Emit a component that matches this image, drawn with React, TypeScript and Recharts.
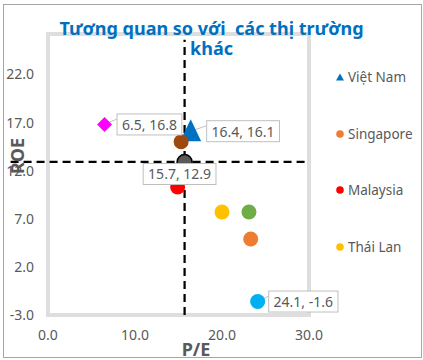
import { ScatterChart, Scatter, XAxis, YAxis, ReferenceLine, ReferenceArea } from "recharts";

const FONT = "'Noto Sans', sans-serif";
const GREY = "#595959";

// one point per market
const markets = ["Việt Nam", "Singapore", "Malaysia", "Thái Lan", "Indonesia", "Philippines", "Trung Quốc", "Ấn Độ", "Trung vị"];
const peValues = [16.4, 23.3, 14.9, 20.0, 23.1, 15.3, 6.5, 24.1, 15.7];
const roeValues = [16.1, 4.9, 10.3, 7.7, 7.7, 15.0, 16.8, -1.6, 12.9];

// excel legend only had room for the first four
const legendMarkets = ["Việt Nam", "Singapore", "Malaysia", "Thái Lan"];

const xTicks = [0, 10, 20, 30];
const yTicks = [-3, 2, 7, 12, 17, 22];

// dashed cross through the median point
const medianPE = 15.7;
const medianROE = 12.9;
const crossPE = [-4.3, 29.8];
const crossROE = [-3, 25.6];

type Shape = "circle" | "triangle" | "diamond";
const markerStyle: Record<string, { color: string; shape: Shape; stroke?: string }> = {
  "Việt Nam": { color: "#0070C0", shape: "triangle" },
  Singapore: { color: "#ED7D31", shape: "circle" },
  Malaysia: { color: "#FF0000", shape: "circle" },
  "Thái Lan": { color: "#FFC000", shape: "circle" },
  Indonesia: { color: "#70AD47", shape: "circle" },
  Philippines: { color: "#9E480E", shape: "circle" },
  "Trung Quốc": { color: "#FF00FF", shape: "diamond" },
  "Ấn Độ": { color: "#00B0F0", shape: "circle" },
  "Trung vị": { color: "#595959", shape: "circle", stroke: "#000" },
};

const labelStyle: Record<string, { side: "right" | "below"; gap: number }> = {
  "Việt Nam": { side: "right", gap: 16 },
  "Trung Quốc": { side: "right", gap: 12.5 },
  "Ấn Độ": { side: "right", gap: 11 },
  "Trung vị": { side: "below", gap: 1.5 },
};

const textWidth = (s: string) =>
  s.split("").reduce((w, c) => w + (/[0-9]/.test(c) ? 8 : c === "-" ? 4.5 : 3.7), 0);

const Marker = ({ shape, cx, cy, color, stroke }: { shape: Shape; cx: number; cy: number; color: string; stroke?: string }) => {
  if (shape === "triangle")
    return <polygon points={`${cx},${cy - 12} ${cx + 10.5},${cy + 10} ${cx - 10.5},${cy + 10}`} fill={color} />;
  if (shape === "diamond")
    return <polygon points={`${cx},${cy - 7.5} ${cx + 7.5},${cy} ${cx},${cy + 7.5} ${cx - 7.5},${cy}`} fill={color} />;
  return <circle cx={cx} cy={cy} r={7.5} fill={color} stroke={stroke} strokeWidth={stroke ? 1.5 : 0} />;
};

const makeShape = (name: string) => (props: any) => {
  const { cx, cy, payload } = props;
  const m = markerStyle[name];
  const lab = labelStyle[name];
  if (!lab) return <Marker shape={m.shape} cx={cx} cy={cy} color={m.color} stroke={m.stroke} />;

  const text = `${payload.x.toFixed(1)}, ${payload.y.toFixed(1)}`;
  const w = textWidth(text) + 10;
  const h = 21;
  const bx = lab.side === "right" ? cx + lab.gap : cx - 5 - w / 2;
  const by = lab.side === "right" ? cy - h / 2 : cy + lab.gap;
  return (
    <g>
      {lab.side === "right" && <line x1={cx} y1={cy} x2={bx} y2={by + 5} stroke="#bfbfbf" strokeWidth={1} />}
      <Marker shape={m.shape} cx={cx} cy={cy} color={m.color} stroke={m.stroke} />
      <rect x={bx} y={by} width={w} height={h} fill="#fff" stroke="#bfbfbf" strokeWidth={1} />
      <text x={bx + w / 2} y={by + h / 2} textAnchor="middle" dominantBaseline="central" fontSize={14} fill={GREY} fontFamily={FONT}>
        {text}
      </text>
    </g>
  );
};

const LegendIcon = ({ name }: { name: string }) => {
  const m = markerStyle[name];
  return (
    <svg width={10} height={10} style={{ display: "block" }}>
      {m.shape === "triangle" ? (
        <polygon points="5,1.5 9,8.5 1,8.5" fill={m.color} />
      ) : (
        <circle cx={5} cy={5} r={3.8} fill={m.color} />
      )}
    </svg>
  );
};

export default function App() {
  const tick = { fill: GREY, fontSize: 14, fontFamily: FONT };
  return (
    <div style={{ position: "absolute", left: 0, top: 0, width: 423, height: 360, background: "#fff", fontFamily: FONT }}>
      <div style={{ position: "absolute", left: 3, top: 4, width: 419, height: 354, boxSizing: "border-box", border: "1px solid #a6a6a6" }} />
      <ScatterChart width={423} height={360} margin={{ top: 34, right: 114, bottom: 15, left: 0 }} style={{ position: "absolute", left: 0, top: 0 }}>
        <ReferenceArea x1={0} x2={30} y1={-3} y2={26.2} fill="none" stroke="#dedede" strokeWidth={4} ifOverflow="visible" />
        <XAxis
          type="number"
          dataKey="x"
          domain={[0, 30]}
          ticks={xTicks}
          tickFormatter={(v: number) => v.toFixed(1)}
          axisLine={false}
          tickLine={false}
          tickSize={0}
          tickMargin={15}
          height={30}
          tick={tick}
          label={(p: any) => (
            <text x={p.viewBox.x + p.viewBox.width / 2 + 17.5} y={p.viewBox.y + 33.5} textAnchor="middle" dominantBaseline="central" fontSize={18} fontWeight="bold" fill={GREY} fontFamily={FONT}>
              P/E
            </text>
          )}
        />
        <YAxis
          type="number"
          dataKey="y"
          domain={[-3, 26.2]}
          ticks={yTicks}
          tickFormatter={(v: number) => v.toFixed(1)}
          axisLine={false}
          tickLine={false}
          tickSize={0}
          tickMargin={14}
          width={48}
          tick={tick}
          label={() => (
            <text x={16.5} y={156} transform="rotate(-90 16.5 156)" textAnchor="middle" dominantBaseline="central" fontSize={18} fontWeight="bold" fill={GREY} fontFamily={FONT}>
              ROE
            </text>
          )}
        />
        <ReferenceLine segment={[{ x: crossPE[0], y: medianROE }, { x: crossPE[1], y: medianROE }]} stroke="#000" strokeWidth={2.25} strokeDasharray="8 5" ifOverflow="visible" />
        <ReferenceLine segment={[{ x: medianPE, y: crossROE[0] }, { x: medianPE, y: crossROE[1] }]} stroke="#000" strokeWidth={2.25} strokeDasharray="8 5" ifOverflow="visible" />
        {markets.map((name, i) => (
          <Scatter
            key={name}
            name={name}
            data={[{ x: peValues[i], y: roeValues[i] }]}
            fill={markerStyle[name].color}
            shape={makeShape(name)}
            isAnimationActive={false}
          />
        ))}
      </ScatterChart>

      <div
        style={{
          position: "absolute",
          left: 56.5,
          top: 18,
          width: 310,
          textAlign: "center",
          whiteSpace: "pre-wrap",
          fontSize: 18,
          lineHeight: "20px",
          fontWeight: "bold",
          color: "#0070C0",
        }}
      >
        {"Tương quan so với  các thị trường khác"}
      </div>

      {legendMarkets.map((name, i) => (
        <div
          key={name}
          style={{ position: "absolute", left: 335, top: 67 + i * 56.6, height: 20, display: "flex", alignItems: "center", fontSize: 13.5, color: GREY }}
        >
          <LegendIcon name={name} />
          <span style={{ marginLeft: 3 }}>{name}</span>
        </div>
      ))}
    </div>
  );
}
